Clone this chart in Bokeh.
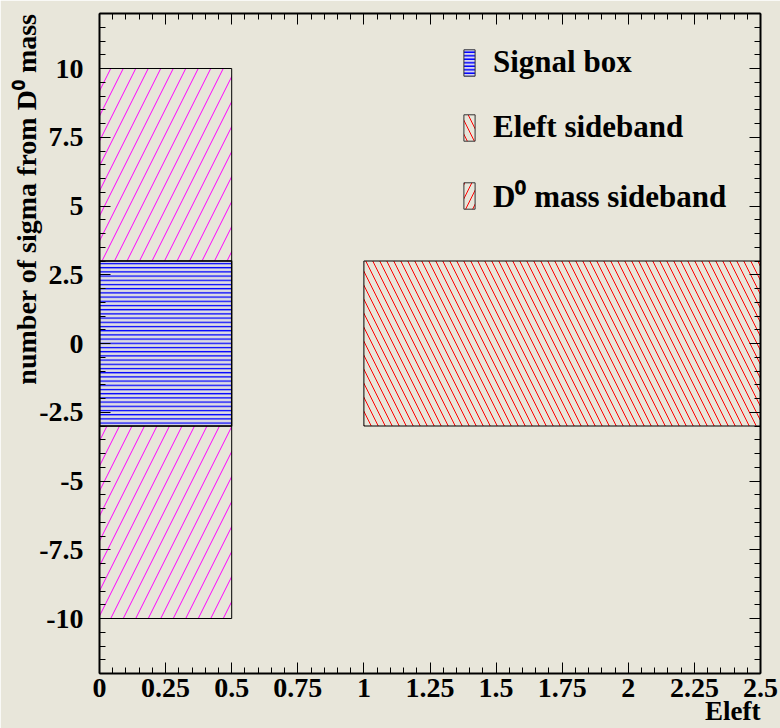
from bokeh.plotting import figure
from bokeh.models import (ColumnDataSource, FixedTicker, LinearAxis, Legend, LegendItem,
                          Range1d, CustomLabelingPolicy, Title)
from bokeh.embed import file_html
from bokeh.resources import INLINE

# ---- data ----
signal_left = [0.0]
signal_right = [0.5]
signal_bottom = [-3.0]
signal_top = [3.0]

d0_left = [0.0, 0.0]
d0_right = [0.5, 0.5]
d0_bottom = [3.0, -10.0]
d0_top = [10.0, -3.0]

eleft_left = [1.0]
eleft_right = [2.5]
eleft_bottom = [-3.0]
eleft_top = [3.0]

x_major = [0, 0.25, 0.5, 0.75, 1, 1.25, 1.5, 1.75, 2, 2.25, 2.5]
x_labels = ["0", "0.25", "0.5", "0.75", "1", "1.25", "1.5", "1.75", "2", "2.25", "2.5"]
x_minor = [i * 0.05 for i in range(0, 51)]
y_major = [-10, -7.5, -5, -2.5, 0, 2.5, 5, 7.5, 10]
y_labels = ["-10", "-7.5", "-5", "-2.5", "0", "2.5", "5", "7.5", "10"]
y_minor = [-12 + i * 0.5 for i in range(0, 49)]

legend_labels = ["Signal box", "Eleft sideband", "D\u2070 mass sideband"]
x_title = "Eleft"
y_title = "number of sigma from D\u2070 mass"

BG = "#e8e6da"
FONT = "Liberation Serif"
NAN = float("nan")

p = figure(width=780, height=728, output_backend="svg", toolbar_location=None,
           x_range=Range1d(0, 2.5), y_range=Range1d(-12, 12),
           x_axis_location=None, y_axis_location=None,
           min_border_left=99, min_border_right=20, min_border_top=13,
           min_border_bottom=55)
p.background_fill_color = BG
p.border_fill_color = BG
p.outline_line_color = None
p.xgrid.visible = False
p.ygrid.visible = False

src_sig = ColumnDataSource(dict(left=signal_left, right=signal_right, bottom=signal_bottom, top=signal_top))
src_d0 = ColumnDataSource(dict(left=d0_left, right=d0_right, bottom=d0_bottom, top=d0_top))
src_el = ColumnDataSource(dict(left=eleft_left, right=eleft_right, bottom=eleft_bottom, top=eleft_top))

r_d0 = p.quad(left="left", right="right", bottom="bottom", top="top", source=src_d0,
              fill_alpha=0, line_color="black", line_width=1,
              hatch_pattern="right_diagonal_line", hatch_color="#ff00ff", hatch_scale=25, hatch_weight=1)
r_sig = p.quad(left="left", right="right", bottom="bottom", top="top", source=src_sig,
               fill_color="#c8c8f0", fill_alpha=0.35, line_color="black", line_width=1.5,
               hatch_pattern="horizontal_line", hatch_color="#0000ff", hatch_scale=4.2, hatch_weight=1.3)
r_el = p.quad(left="left", right="right", bottom="bottom", top="top", source=src_el,
              fill_alpha=0, line_color="black", line_width=1,
              hatch_pattern="left_diagonal_line", hatch_color="#ff0000", hatch_scale=14, hatch_weight=1)

# legend-only proxies (swatches as drawn in the reference's legend)
proxy = ColumnDataSource(dict(left=[NAN], right=[NAN], bottom=[NAN], top=[NAN]))
lg_sig = p.quad(left="left", right="right", bottom="bottom", top="top", source=proxy,
                fill_color="#c8c8ff", fill_alpha=0.6, line_color="#333333", line_width=1,
                hatch_pattern="horizontal_line", hatch_color="#0000ff", hatch_scale=3.5, hatch_weight=1.5)
lg_el = p.quad(left="left", right="right", bottom="bottom", top="top", source=proxy,
               fill_alpha=0, line_color="#333333", line_width=1,
               hatch_pattern="left_diagonal_line", hatch_color="#ff0000", hatch_scale=14, hatch_weight=1)
lg_d0 = p.quad(left="left", right="right", bottom="bottom", top="top", source=proxy,
               fill_alpha=0, line_color="#333333", line_width=1,
               hatch_pattern="right_diagonal_line", hatch_color="#ff0000", hatch_scale=14, hatch_weight=1)

legend = Legend(items=[LegendItem(label=legend_labels[0], renderers=[lg_sig]),
                       LegendItem(label=legend_labels[1], renderers=[lg_el]),
                       LegendItem(label=legend_labels[2], renderers=[lg_d0])],
                location=(363, 457), orientation="vertical",
                glyph_width=14, glyph_height=33, label_height=33, spacing=29,
                label_standoff=17, padding=0, margin=0,
                border_line_color=None, background_fill_alpha=0,
                label_text_font=FONT, label_text_font_style="bold",
                label_text_font_size="31px", label_text_color="black")
p.add_layout(legend, "center")

no_labels = CustomLabelingPolicy(code="return new Set()")


def style_axis(ax, show_labels):
    ax.axis_line_width = 2
    ax.axis_line_color = "black"
    ax.major_tick_in = 11
    ax.major_tick_out = 0
    ax.minor_tick_in = 6
    ax.minor_tick_out = 0
    ax.major_tick_line_width = 1
    ax.minor_tick_line_width = 1
    ax.major_tick_line_color = "black"
    ax.minor_tick_line_color = "black"
    ax.major_label_text_font = FONT
    ax.major_label_text_font_style = "bold"
    ax.major_label_text_color = "black"
    if show_labels:
        ax.major_label_text_font_size = "28px"
    else:
        ax.major_label_text_font_size = "2px"
        ax.major_label_standoff = 0
        ax.major_label_policy = no_labels


xb = LinearAxis(ticker=FixedTicker(ticks=x_major, minor_ticks=x_minor),
                major_label_overrides={v: s for v, s in zip(x_major, x_labels)})
style_axis(xb, True)
xb.major_label_standoff = 5
p.add_layout(xb, "below")

xt = LinearAxis(ticker=FixedTicker(ticks=x_major, minor_ticks=x_minor))
style_axis(xt, False)
p.add_layout(xt, "above")

yl = LinearAxis(ticker=FixedTicker(ticks=y_major, minor_ticks=y_minor),
                major_label_overrides={v: s for v, s in zip(y_major, y_labels)})
style_axis(yl, True)
yl.major_label_standoff = 16
p.add_layout(yl, "left")

yr = LinearAxis(ticker=FixedTicker(ticks=y_major, minor_ticks=y_minor))
style_axis(yr, False)
p.add_layout(yr, "right")

p.add_layout(Title(text=y_title, align="right", standoff=-10,
                   text_font=FONT, text_font_style="bold", text_font_size="28px",
                   text_color="black"), "left")
p.add_layout(Title(text=x_title, align="right", standoff=-12,
                   text_font=FONT, text_font_style="bold", text_font_size="27px",
                   text_color="black"), "below")

open("out.html", "w").write(file_html(p, INLINE))
